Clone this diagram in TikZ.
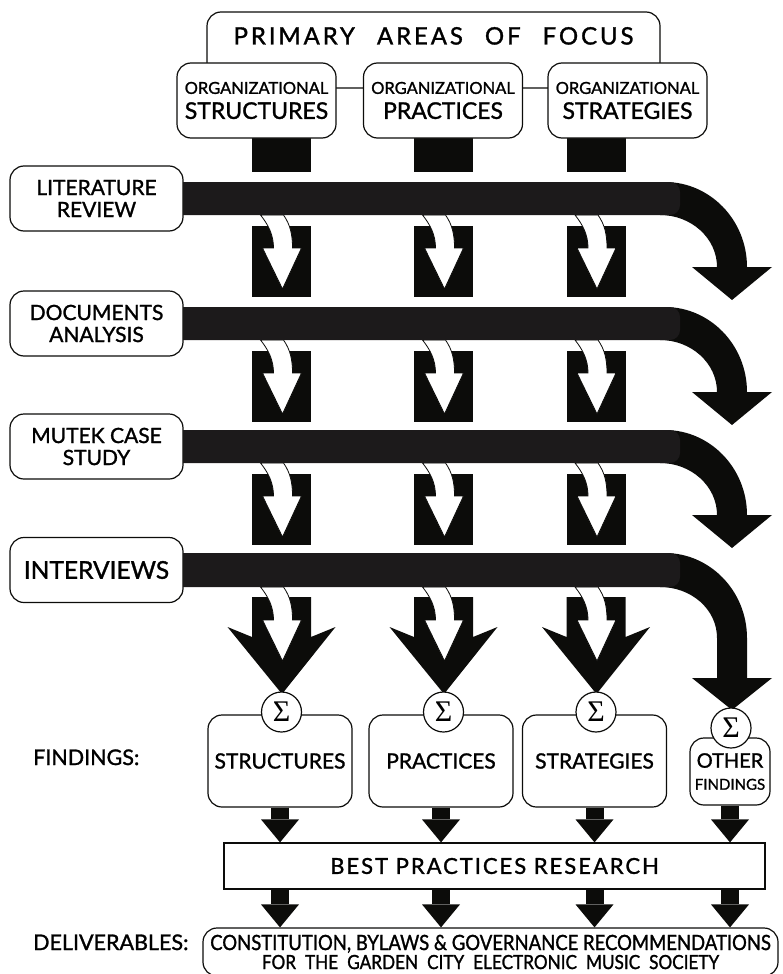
\documentclass[tikz,border=0pt]{standalone}
\usepackage{fontspec}
\setmainfont{Lato}[FakeBold=1.3]
\newfontfamily\spacedfont{Lato}[LetterSpace=9, FakeBold=1.3]
\newfontfamily\widefont{Lato}[LetterSpace=12, FakeBold=1.3]
\newfontfamily\narrowfont{Lato}[FakeStretch=0.88, FakeBold=1.3]
\newfontfamily\sigmafont{Liberation Serif}
\usetikzlibrary{arrows.meta,calc,positioning}
\definecolor{barfill}{RGB}{28,26,27}
\definecolor{inkblack}{RGB}{12,12,10}

\tikzset{
  box/.style={draw=inkblack, line width=1.2pt, rounded corners=14pt, fill=white, align=center, inner sep=0pt},
  areabox/.style={box, minimum width=159pt, minimum height=75pt, font=\fontsize{23}{25}\selectfont},
  srcbox/.style={box, minimum width=173pt, minimum height=65pt, font=\fontsize{21}{22}\selectfont},
  findbox/.style={box, minimum width=144pt, minimum height=92pt, font=\fontsize{21}{22}\selectfont},
  sigmanode/.style={circle, draw=inkblack, line width=1.2pt, fill=white, minimum size=40pt, inner sep=0pt, font=\sigmafont\fontsize{30}{30}\selectfont},
  sidelabel/.style={anchor=base west, inner sep=0pt, font=\fontsize{21.5}{22}\selectfont},
  blkarrow/.style={draw=inkblack, line width=18pt, -{Triangle[width=38pt,length=23pt,line width=0pt]}}
}

% white arrow inside a black block: #1 column centre, #2 bar bottom
\newcommand{\whitearrow}[2]{%
  \filldraw[fill=white, draw=inkblack, line width=0.8pt]
    (#1-21,#2) .. controls (#1-13,#2+10) and (#1-8,#2+20) .. (#1-8,#2+33)
    -- (#1-19,#2+33) -- (#1+1,#2+74) -- (#1+20,#2+33) -- (#1+11,#2+33)
    .. controls (#1+11,#2+20) and (#1+9,#2+10) .. (#1+2,#2) -- cycle;}

\begin{document}
\begin{tikzpicture}[x=1pt,y=-1pt]
\useasboundingbox (0,0) rectangle (783,974);

% Areas of focus
\node[box, minimum width=453pt, minimum height=76pt] (focus) at (433.5,50) {};
\node[font=\widefont\fontsize{24}{26}\selectfont] (focustitle) at ($(focus.north)+(0,24.5)$)
  {PRIMARY\hspace{13pt} AREAS\hspace{13pt} OF\hspace{13pt} FOCUS};
\foreach \cx in {281.5,443.5,596}
  \fill[inkblack] (\cx-29.5,130) rectangle (\cx+29.5,172);
\node[areabox] (astr) at (256.5,100.5) {{\fontsize{16.5}{25}\selectfont ORGANIZATIONAL}\\STRUCTURES};
\node[areabox] (apra) at (443,100.5) {{\fontsize{16.5}{25}\selectfont ORGANIZATIONAL}\\PRACTICES};
\node[areabox] (astg) at (627.5,100.5) {{\fontsize{16.5}{25}\selectfont ORGANIZATIONAL}\\STRATEGIES};

% Research rows
\foreach \dy in {0,125,248} {
  \begin{scope}[shift={(0,\dy)}]
    \fill[inkblack] (665,182) .. controls (710,182) and (747,220) .. (747,267) -- (772,267)
      -- (732,300) -- (692,267) -- (717,267) .. controls (717,238) and (691,215) .. (660,215) -- cycle;
    \foreach \cx in {281.5,443.5,596} {
      \fill[inkblack] (\cx-29.5,226) rectangle (\cx+29.5,297);
      \whitearrow{\cx}{215}
    }
    \fill[barfill, rounded corners=10pt] (150,182) rectangle (680,215);
  \end{scope}
}
% Interviews row
\fill[inkblack] (665,553) .. controls (710,553) and (747,591) .. (747,638) -- (747,678) -- (772,678)
  -- (732,710) -- (692,678) -- (717,678) -- (717,638) .. controls (717,609) and (691,587) .. (660,587) -- cycle;
\foreach \cx in {281.5,443.5,596} {
  \fill[inkblack] (\cx-29.5,597) -- (\cx+29.5,597) -- (\cx+29.5,637) -- (\cx+54,627)
    -- (\cx+0.5,694) -- (\cx-54,627) -- (\cx-29.5,637) -- cycle;
  \whitearrow{\cx}{587}
}
\fill[barfill, rounded corners=10pt] (150,553) rectangle (680,587);

\node[srcbox] (lit) at (96.5,198.5) {LITERATURE\\REVIEW};
\node[srcbox] (doc) at (96.5,323.5) {DOCUMENTS\\ANALYSIS};
\node[srcbox] (mut) at (96.5,446.5) {MUTEK CASE\\STUDY};
\node[srcbox, font=\fontsize{24.5}{24}\selectfont] (int) at (96.5,570) {INTERVIEWS};

% Findings
\node[sidelabel] (findlbl) at (33,765) {FINDINGS:};
\node[findbox] (fs) at (280,761) {STRUCTURES};
\node[findbox] (fp) at (441,761) {PRACTICES};
\node[findbox] (fg) at (594.5,761) {STRATEGIES};
\node[findbox, minimum width=80pt, minimum height=67pt] (fo) at (730,771.5)
  {{\fontsize{20}{20}\selectfont OTHER}\\{\fontsize{15}{17}\selectfont FINDINGS}};
\foreach \cx/\cy [count=\i] in {281.5/712,443.5/712,596/712,731/728}
  \node[sigmanode] (sum\i) at (\cx,\cy) {Σ};

% Best practices and deliverables
\node[draw=inkblack, line width=1.2pt, fill=white, minimum width=541pt, minimum height=46pt,
  font=\spacedfont\fontsize{22}{22}\selectfont] (bpr) at (494.5,866) {BEST PRACTICES RESEARCH};
\node[sidelabel] (dlvlbl) at (33,950) {DELIVERABLES:};
\node[box, minimum width=575pt, minimum height=48pt, font=\narrowfont\fontsize{21}{19}\selectfont] (dlv) at (490.5,952)
  {CONSTITUTION, BYLAWS \& GOVERNANCE RECOMMENDATIONS\\{\fontsize{19.5}{19}\selectfont\spaceskip=9pt FOR THE GARDEN CITY ELECTRONIC MUSIC SOCIETY}};
\foreach \f in {fs,fp,fg,fo} {
  \draw[blkarrow] (\f.south) -- (\f.south |- bpr.north);
  \draw[blkarrow] (\f.south |- bpr.south) -- (\f.south |- dlv.north);
}
\end{tikzpicture}
\end{document}
